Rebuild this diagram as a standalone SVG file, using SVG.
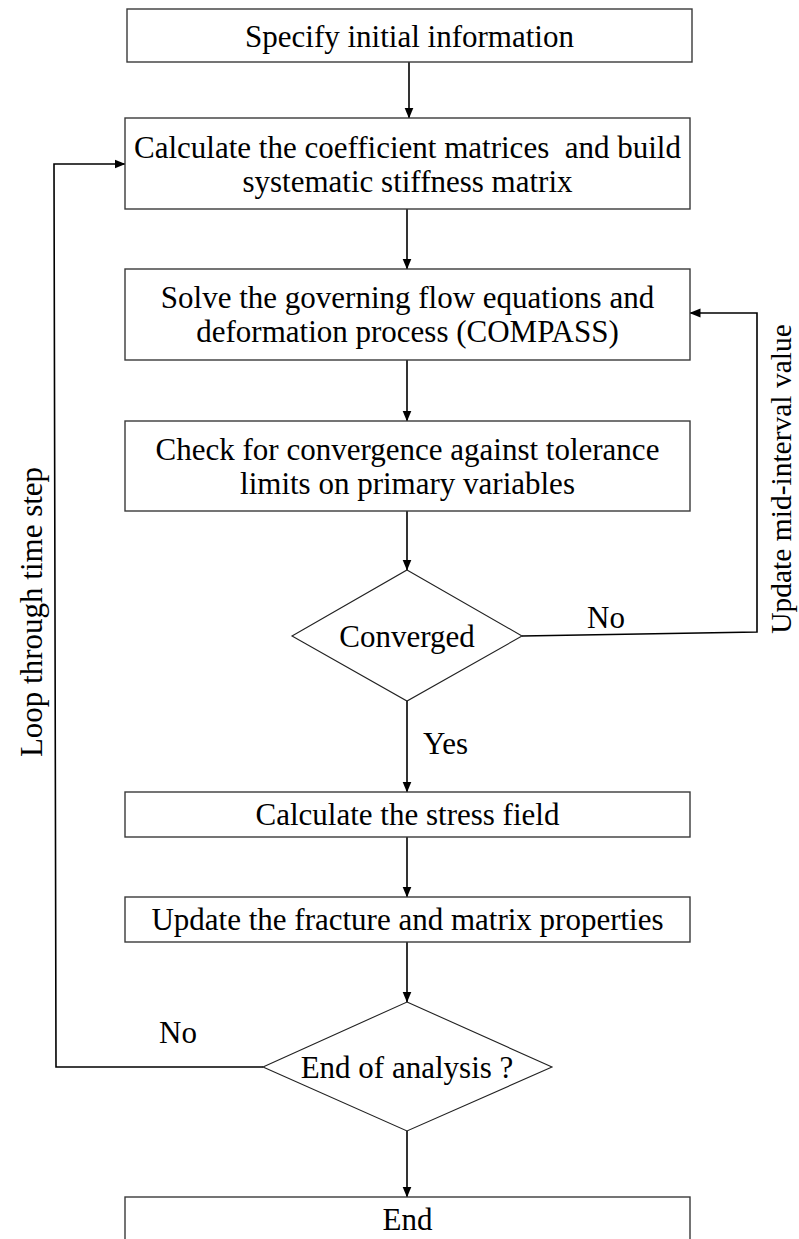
<svg xmlns="http://www.w3.org/2000/svg" width="799" height="1239" viewBox="0 0 799 1239">
<defs>
<marker id="ah" markerWidth="11" markerHeight="10" refX="10.5" refY="5" orient="auto" markerUnits="userSpaceOnUse">
<path d="M0,0.5 L11,5 L0,9.5 Z" fill="#000"/>
</marker>
<style>
.box{fill:#fff;stroke:#3a3a3a;stroke-width:1.4}
.dia{fill:#fff;stroke:#222;stroke-width:1.1}
.t{font-family:"Liberation Serif","Times New Roman",serif;font-size:31px;fill:#000}
.c{text-anchor:middle}
.con{fill:none;stroke:#000;stroke-width:1.6}
</style>
</defs>
<rect width="799" height="1239" fill="#fff"/>
<g id="connectors">
<line class="con" x1="409" y1="62" x2="409" y2="118" marker-end="url(#ah)"/>
<line class="con" x1="407" y1="209" x2="407" y2="269" marker-end="url(#ah)"/>
<line class="con" x1="407" y1="360" x2="407" y2="421" marker-end="url(#ah)"/>
<line class="con" x1="407" y1="511" x2="407" y2="570" marker-end="url(#ah)"/>
<line class="con" x1="407" y1="701" x2="407" y2="792" marker-end="url(#ah)"/>
<line class="con" x1="407" y1="837" x2="407" y2="897" marker-end="url(#ah)"/>
<line class="con" x1="407" y1="942" x2="407" y2="1002" marker-end="url(#ah)"/>
<line class="con" x1="407" y1="1131" x2="407" y2="1197" marker-end="url(#ah)"/>
<polyline class="con" points="522,636 757,632 757,313 690,313" marker-end="url(#ah)"/>
<polyline class="con" points="263,1067 56,1067 54,164 125,164" marker-end="url(#ah)"/>
<text class="t" x="423" y="754">Yes</text>
<text class="t c" x="606" y="628">No</text>
<text class="t c" x="178" y="1043">No</text>
<text class="t c" style="font-size:29.5px" transform="translate(791,479) rotate(-90)">Update mid-interval value</text>
<text class="t c" transform="translate(42,612) rotate(-90)">Loop through time step</text>
</g>
<g id="n1">
<rect class="box" x="127" y="9" width="565" height="53"/>
<text class="t c" x="409.5" y="47">Specify initial information</text>
</g>
<g id="n2">
<rect class="box" x="125" y="118" width="565" height="91"/>
<text class="t c" x="407.5" y="158">Calculate the coefficient matrices&#160; and build</text>
<text class="t c" x="407.5" y="192">systematic stiffness matrix</text>
</g>
<g id="n3">
<rect class="box" x="125" y="269" width="565" height="91"/>
<text class="t c" x="407.5" y="308">Solve the governing flow equations and</text>
<text class="t c" x="407.5" y="342">deformation process (COMPASS)</text>
</g>
<g id="n4">
<rect class="box" x="125" y="421" width="565" height="90"/>
<text class="t c" x="407.5" y="460">Check for convergence against tolerance</text>
<text class="t c" x="407.5" y="494">limits on primary variables</text>
</g>
<g id="n5">
<polygon class="dia" points="407,570 522,636 407,701 292,636"/>
<text class="t c" x="407" y="647">Converged</text>
</g>
<g id="n6">
<rect class="box" x="125" y="792" width="565" height="45"/>
<text class="t c" x="407.5" y="825">Calculate the stress field</text>
</g>
<g id="n7">
<rect class="box" x="125" y="897" width="565" height="45"/>
<text class="t c" x="407.5" y="930">Update the fracture and matrix properties</text>
</g>
<g id="n8">
<polygon class="dia" points="407,1002 552,1067 407,1131 263,1067"/>
<text class="t c" x="407" y="1078">End of analysis ?</text>
</g>
<g id="n9">
<rect class="box" x="125" y="1197" width="565" height="60"/>
<text class="t c" x="407.5" y="1230">End</text>
</g>
</svg>
